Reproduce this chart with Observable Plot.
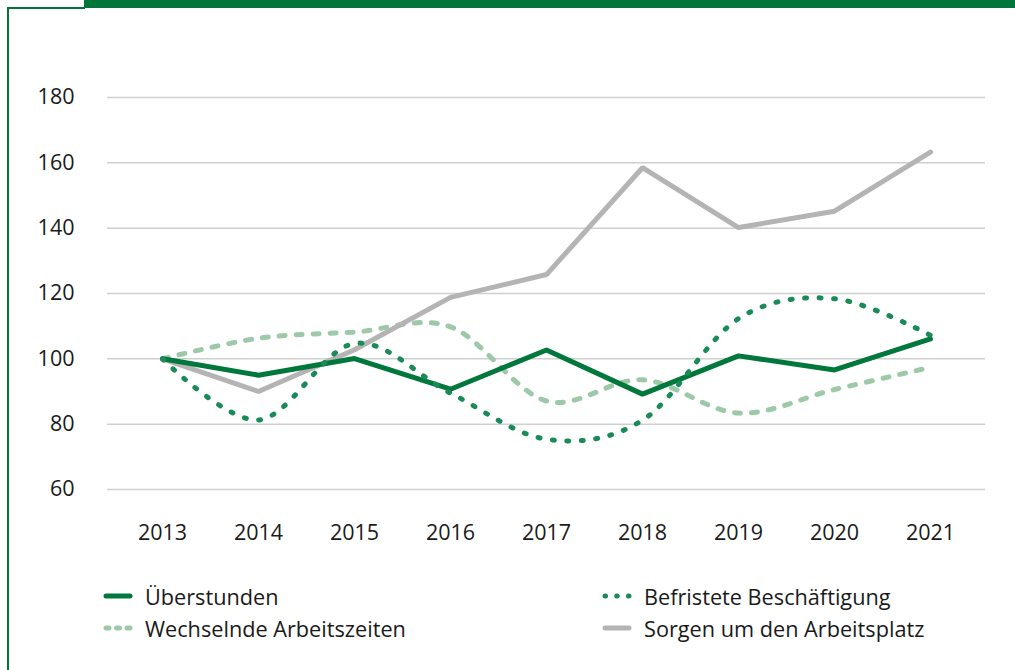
<!DOCTYPE html>
<html>
<head>
<meta charset="utf-8">
<script src="https://cdn.jsdelivr.net/npm/d3@7"></script>
<script src="https://cdn.jsdelivr.net/npm/@observablehq/plot@0.6"></script>
<style>
  html, body { margin: 0; padding: 0; background: #fff; }
  body { width: 1015px; height: 670px; position: relative; overflow: hidden; font-family: "Open Sans", "Noto Sans", sans-serif; color: #1a1a1a; }
  #topbar { position: absolute; left: 84px; top: 0; width: 931px; height: 8px; background: #00763a; }
  #topline { position: absolute; left: 7px; top: 7px; width: 78px; height: 1.5px; background: #00763a; }
  #leftline { position: absolute; left: 7px; top: 7px; width: 1.5px; height: 663px; background: #00763a; }
  #chart { position: absolute; left: 0; top: 0; }
  #legend { position: absolute; left: 0; top: 580px; width: 1015px; font-size: 21.7px; }
  .item { position: absolute; display: flex; align-items: center; height: 32px; }
  .item svg { margin-right: 12px; }
</style>
</head>
<body>
<div id="topbar"></div>
<div id="topline"></div>
<div id="leftline"></div>
<div id="chart"></div>
<div id="legend"></div>
<script>
const years = [2013, 2014, 2015, 2016, 2017, 2018, 2019, 2020, 2021];
const ueberstunden = [100, 95.0, 100.1, 90.7, 102.7, 89.2, 100.9, 96.6, 106.1];
const befristete = [100, 81.3, 104.7, 89.5, 75.4, 81.2, 112.3, 118.4, 107.2];
const wechselnde = [100, 106.3, 108.2, 109.8, 87.1, 93.6, 83.4, 90.6, 97.4];
const sorgen = [100, 90.0, 102.8, 118.8, 125.8, 158.5, 140.2, 145.2, 163.3];
const yTicks = [60, 80, 100, 120, 140, 160, 180];

const seriesNames = ["Überstunden", "Befristete Beschäftigung", "Wechselnde Arbeitszeiten", "Sorgen um den Arbeitsplatz"];
const colors = { "Überstunden": "#00773b", "Befristete Beschäftigung": "#1a8b58", "Wechselnde Arbeitszeiten": "#9ec9a9", "Sorgen um den Arbeitsplatz": "#b4b4b4" };

const rows = (name, vals) => years.map((y, i) => ({ year: String(y), value: vals[i], name }));
const dU = rows(seriesNames[0], ueberstunden);
const dB = rows(seriesNames[1], befristete);
const dW = rows(seriesNames[2], wechselnde);
const dS = rows(seriesNames[3], sorgen);

const chart = Plot.plot({
  width: 1015,
  height: 560,
  marginTop: 97,
  marginBottom: 71,
  marginLeft: 107,
  marginRight: 30,
  style: { fontFamily: "'Open Sans', 'Noto Sans', sans-serif", fontSize: "21.5px", color: "#1a1a1a", background: "transparent" },
  x: { type: "point", domain: years.map(String), padding: 0.57, label: null, tickSize: 0, tickPadding: 35 },
  y: { domain: [60, 180], ticks: yTicks, label: null, tickSize: 0, tickPadding: 33 },
  marks: [
    Plot.ruleY(yTicks, { stroke: "#cfcfcf", strokeWidth: 1.5 }),
    Plot.line(dW, { x: "year", y: "value", stroke: colors[seriesNames[2]], strokeWidth: 5, curve: "cardinal", strokeDasharray: "6,11", strokeLinecap: "round" }),
    Plot.line(dS, { x: "year", y: "value", stroke: colors[seriesNames[3]], strokeWidth: 5, strokeLinecap: "round", strokeLinejoin: "miter" }),
    Plot.line(dU, { x: "year", y: "value", stroke: colors[seriesNames[0]], strokeWidth: 5, strokeLinecap: "round", strokeLinejoin: "miter" }),
    Plot.line(dB, { x: "year", y: "value", stroke: colors[seriesNames[1]], strokeWidth: 5, curve: "cardinal", strokeDasharray: "2,12.5", strokeLinecap: "round" })
  ]
});
document.getElementById("chart").appendChild(chart);

// Legend
const legendItems = [
  { name: seriesNames[0], left: 103, top: 0, dash: null },
  { name: seriesNames[1], left: 602, top: 0, dash: "0.5,11.25" },
  { name: seriesNames[2], left: 103, top: 32, dash: "3,7.5" },
  { name: seriesNames[3], left: 602, top: 32, dash: null }
];
const legend = document.getElementById("legend");
for (const it of legendItems) {
  const div = document.createElement("div");
  div.className = "item";
  div.style.left = it.left + "px";
  div.style.top = it.top + "px";
  const ns = "http://www.w3.org/2000/svg";
  const svg = document.createElementNS(ns, "svg");
  svg.setAttribute("width", 30);
  svg.setAttribute("height", 10);
  const ln = document.createElementNS(ns, "line");
  ln.setAttribute("x1", 3); ln.setAttribute("x2", 27);
  ln.setAttribute("y1", 5); ln.setAttribute("y2", 5);
  ln.setAttribute("stroke", colors[it.name]);
  ln.setAttribute("stroke-width", 5);
  ln.setAttribute("stroke-linecap", "round");
  if (it.dash) ln.setAttribute("stroke-dasharray", it.dash);
  svg.appendChild(ln);
  div.appendChild(svg);
  const span = document.createElement("span");
  span.textContent = it.name;
  div.appendChild(span);
  legend.appendChild(div);
}
</script>
</body>
</html>
